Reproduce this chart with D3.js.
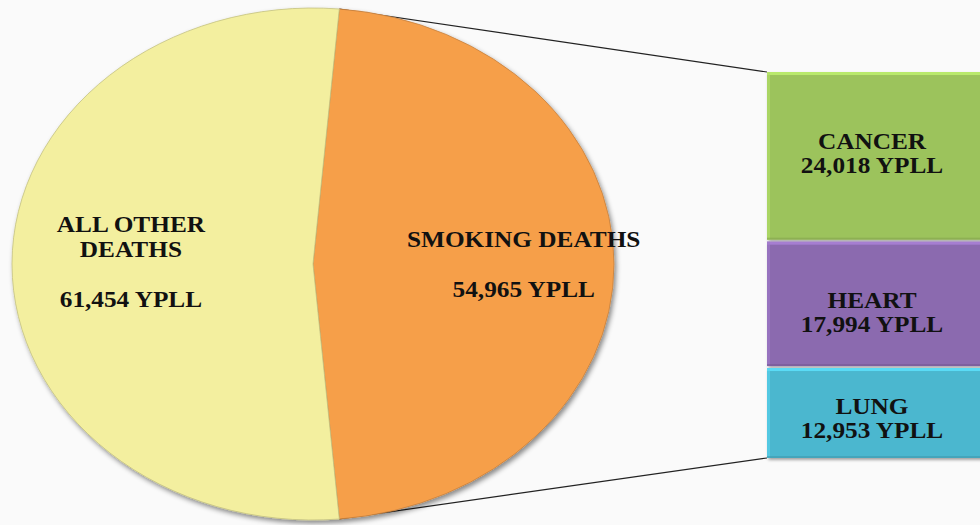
<!DOCTYPE html>
<html>
<head>
<meta charset="utf-8">
<script src="https://cdn.jsdelivr.net/npm/d3@7"></script>
<style>
  html, body { margin: 0; padding: 0; background: #fafafa; }
  svg { display: block; }
  text { font-family: "Liberation Serif", "Times New Roman", serif; font-weight: bold; fill: #111; }
</style>
</head>
<body>
<svg id="chart" width="980" height="525"></svg>
<script>
// ---- data ----
const pieCategories = ["ALL OTHER DEATHS", "SMOKING DEATHS"];
const pieValues = [61454, 54965];
const pieLabelLines = [["ALL OTHER", "DEATHS", "", "61,454 YPLL"], ["SMOKING DEATHS", "", "54,965 YPLL"]];
const barCategories = ["CANCER", "HEART", "LUNG"];
const barValues = [24018, 17994, 12953];
const barValueLabels = ["24,018 YPLL", "17,994 YPLL", "12,953 YPLL"];

// ---- layout ----
const W = 980, H = 525;
const cx = 313, cy = 264, rx = 301, ry = 256;
const barX = 767, barW = 215, barTop = 72, barBottom = 458;
const pieColors = ["#f3ef9f", "#f69f4a"];
const barColors = ["#9cc35b", "#8b6aaf", "#4cb7cf"];
const barLabelDy = [-8, 3, 0];
const fontSize = 23;

const svg = d3.select("#chart");
const defs = svg.append("defs");
const f = defs.append("filter").attr("id", "shadow").attr("x", "-10%").attr("y", "-10%").attr("width", "120%").attr("height", "120%");
f.append("feDropShadow").attr("dx", 2).attr("dy", 3).attr("stdDeviation", 2.5).attr("flood-color", "#000").attr("flood-opacity", 0.45);
const fb = defs.append("filter").attr("id", "bshadow").attr("x", "-10%").attr("y", "-10%").attr("width", "120%").attr("height", "120%");
fb.append("feDropShadow").attr("dx", 1.5).attr("dy", 2).attr("stdDeviation", 1.5).attr("flood-color", "#000").attr("flood-opacity", 0.35);

svg.append("rect").attr("width", W).attr("height", H).attr("fill", "#fafafa");

// pie angles: smoking slice centred on the right side
const total = d3.sum(pieValues);
const smokeAngle = 2 * Math.PI * pieValues[1] / total;
const start = Math.PI / 2 - smokeAngle / 2;
const pie = d3.pie().sort(null).value(d => d.v)
  .startAngle(start).endAngle(start + 2 * Math.PI);
const pieData = pie([
  { name: pieCategories[1], v: pieValues[1], i: 1 },
  { name: pieCategories[0], v: pieValues[0], i: 0 }
]);

const ptOnEllipse = a => [cx + rx * Math.sin(a), cy - ry * Math.cos(a)];

// connector lines (behind)
const smoke = pieData[0];
const pTop = ptOnEllipse(smoke.startAngle);
const pBot = ptOnEllipse(smoke.endAngle);
const y = d3.scaleLinear().domain([0, d3.sum(barValues)]).range([barTop, barBottom]);
svg.append("line").attr("x1", pTop[0]).attr("y1", pTop[1]).attr("x2", barX).attr("y2", y(0))
  .attr("stroke", "#222").attr("stroke-width", 1.2);
svg.append("line").attr("x1", pBot[0]).attr("y1", pBot[1]).attr("x2", barX).attr("y2", y(d3.sum(barValues)))
  .attr("stroke", "#222").attr("stroke-width", 1.2);

// pie
const R = ry;
const arc = d3.arc().innerRadius(0).outerRadius(R);
const g = svg.append("g").attr("filter", "url(#shadow)");
g.append("g").attr("transform", `translate(${cx},${cy}) scale(${rx / R},1)`)
  .selectAll("path").data(pieData).join("path")
  .attr("d", arc)
  .attr("fill", d => pieColors[d.data.i])
  .attr("stroke", d => d3.color(pieColors[d.data.i]).darker(0.6))
  .attr("stroke-width", 0.8)
  .attr("vector-effect", "non-scaling-stroke");

// pie labels
const pieLabelK = [0.605, 0.70];
const pieLabelY0 = [232, 247];
pieData.forEach(d => {
  const i = d.data.i;
  const mid = (d.startAngle + d.endAngle) / 2;
  const lx = cx + rx * pieLabelK[i] * Math.sin(mid);
  const lines = pieLabelLines[i];
  lines.forEach((t, j) => {
    if (!t) return;
    svg.append("text")
      .attr("transform", `translate(${lx},${pieLabelY0[i] + j * 25}) scale(1.1,1)`)
      .attr("text-anchor", "middle")
      .attr("font-size", fontSize)
      .text(t);
  });
});

// stacked bar
let cum = 0;
const bars = barValues.map((v, i) => {
  const y0 = y(cum), y1 = y(cum + v);
  cum += v;
  return { i, v, y0: y0 + (i > 0 ? 1 : 0), y1: y1 - (i < barValues.length - 1 ? 1 : 0) };
});
const bg = svg.append("g");
bars.forEach(b => {
  const c = barColors[b.i];
  bg.append("rect").attr("x", barX).attr("y", b.y0).attr("width", barW).attr("height", b.y1 - b.y0)
    .attr("fill", c).attr("filter", "url(#bshadow)");
  // bevel highlight
  bg.append("rect").attr("x", barX).attr("y", b.y0).attr("width", barW).attr("height", 3)
    .attr("fill", d3.color(c).brighter(0.6)).attr("opacity", 0.8);
  bg.append("rect").attr("x", barX).attr("y", b.y0).attr("width", 3).attr("height", b.y1 - b.y0)
    .attr("fill", d3.color(c).brighter(0.4)).attr("opacity", 0.6);
  bg.append("rect").attr("x", barX).attr("y", b.y1 - 2).attr("width", barW).attr("height", 2)
    .attr("fill", d3.color(c).darker(0.5)).attr("opacity", 0.6);
  const mid = (b.y0 + b.y1) / 2 + barLabelDy[b.i];
  const lx = barX + 105;
  svg.append("text").attr("transform", `translate(${lx},${mid + 1}) scale(1.1,1)`)
    .attr("text-anchor", "middle").attr("font-size", fontSize).text(barCategories[b.i]);
  svg.append("text").attr("transform", `translate(${lx},${mid + 25}) scale(1.1,1)`)
    .attr("text-anchor", "middle").attr("font-size", fontSize).text(barValueLabels[b.i]);
});
</script>
</body>
</html>
